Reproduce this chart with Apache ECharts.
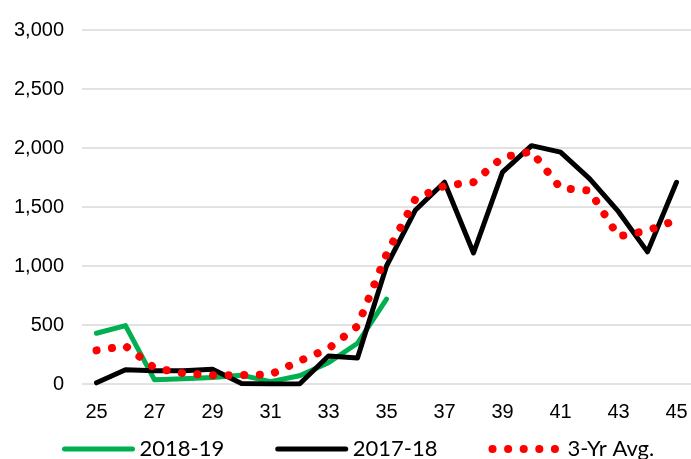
<!DOCTYPE html>
<html>
<head>
<meta charset="utf-8">
<script src="https://cdn.jsdelivr.net/npm/echarts@6/dist/echarts.min.js"></script>
<style>
  html, body { margin: 0; padding: 0; background: #fff; }
  #chart { width: 691px; height: 459px; }
</style>
</head>
<body>
<div id="chart"></div>
<script>
var weeks = ['25','26','27','28','29','30','31','32','33','34','35','36','37','38','39','40','41','42','43','44','45'];
var season1819 = [430, 495, 35, 45, 55, 75, 20, 70, 180, 345, 720, null, null, null, null, null, null, null, null, null, null];
var season1718 = [10, 120, 113, 113, 125, 5, 0, 0, 237, 220, 1000, 1475, 1710, 1110, 1795, 2020, 1965, 1740, 1460, 1120, 1710];
var avg3yr = [285, 322, 135, 90, 75, 75, 80, 195, 300, 490, 1100, 1570, 1680, 1710, 1920, 1970, 1660, 1640, 1250, 1300, 1390];

(function(){
    var option = {
        animation: false,
        grid: {
            left: 82,
            right: 0,
            top: 30,
            bottom: 75
        },
        legend: {
            left: 62,
            top: 438,
            padding: 0,
            itemWidth: 68,
            itemHeight: 14,
            itemGap: 51,
            itemStyle: { opacity: 0, borderWidth: 0 },
            textStyle: {
                fontFamily: 'Lato',
                fontSize: 22,
                color: '#000',
                padding: [0, 0, 0, 2]
            },
            data: [
                { name: '2018-19', lineStyle: { width: 5 } },
                { name: '2017-18', lineStyle: { width: 5 } },
                { name: '3-Yr Avg.', lineStyle: { width: 8 } }
            ]
        },
        xAxis: {
            type: 'category',
            data: weeks,
            boundaryGap: true,
            axisLine: { show: false },
            axisTick: { show: false },
            axisLabel: {
                interval: 1,
                margin: 18,
                fontFamily: 'Liberation Sans',
                fontSize: 20,
                color: '#000'
            }
        },
        yAxis: {
            type: 'value',
            min: 0,
            max: 3000,
            interval: 500,
            axisLabel: {
                margin: 18,
                fontFamily: 'Liberation Sans',
                fontSize: 20,
                color: '#000',
                formatter: function (v) { return v.toLocaleString('en-US'); }
            },
            splitLine: {
                lineStyle: { color: '#d9d9d9', width: 1.5 }
            }
        },
        series: [
            {
                name: '2018-19',
                type: 'line',
                data: season1819,
                symbol: 'none',
                lineStyle: { color: '#00b050', width: 5, cap: 'round', join: 'round' },
                itemStyle: { color: '#00b050' }
            },
            {
                name: '2017-18',
                type: 'line',
                data: season1718,
                symbol: 'none',
                lineStyle: { color: '#000000', width: 5, cap: 'round', join: 'round' },
                itemStyle: { color: '#000000' }
            },
            {
                name: '3-Yr Avg.',
                type: 'line',
                data: avg3yr,
                symbol: 'none',
                lineStyle: { color: '#ff0000', width: 8, type: [0.1, 15.5], cap: 'round' },
                itemStyle: { color: '#ff0000' }
            }
        ]
    };
    echarts.init(document.getElementById('chart')).setOption(option);
})();
</script>
</body>
</html>
